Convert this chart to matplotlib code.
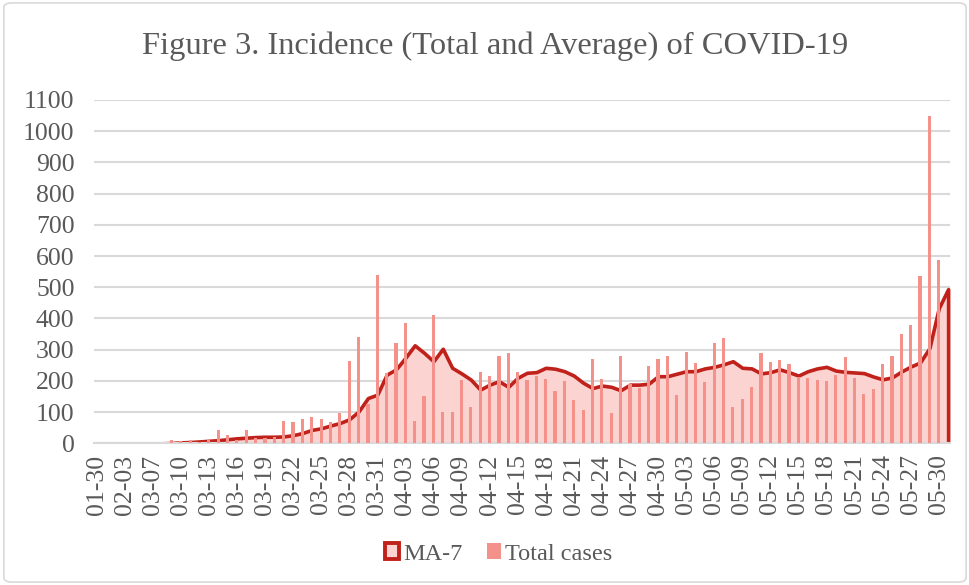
import matplotlib.pyplot as plt
import numpy as np
import pandas as pd
from matplotlib.patches import FancyBboxPatch, Patch

# category labels (the first few dates are not consecutive)
early_dates = ["01-30", "02-01", "02-02", "02-03", "02-04", "03-06"]
later_dates = pd.date_range("2020-03-07", "2020-05-31").strftime("%m-%d").tolist()
dates = early_dates + later_dates

total_cases = [
    0, 0, 0, 0, 0, 0, 0, 0, 12, 8,
    12, 5, 10, 43, 27, 12, 43, 18, 16, 20,
    73, 69, 78, 85, 79, 68, 98, 264, 342, 125,
    538, 226, 320, 386, 72, 150, 411, 101, 101, 202,
    115, 228, 215, 280, 290, 228, 202, 215, 206, 169,
    199, 138, 108, 269, 206, 97, 280, 191, 176, 249,
    271, 280, 154, 294, 258, 197, 320, 337, 115, 142,
    180, 289, 262, 267, 254, 213, 210, 204, 201, 220,
    275, 209, 157, 174, 253, 279, 349, 379, 535, 1048,
    587, np.nan,
]

ma7 = [
    0, 0, 0, 0, 0, 0, 0, 0, 1, 3,
    4, 6, 8, 10, 13, 16, 18, 20, 21, 21,
    22, 26, 33, 43, 48, 57, 65, 77, 102, 145,
    156, 220, 237, 274, 314, 290, 263, 303, 242, 224,
    204, 172, 188, 199, 181, 210, 226, 228, 242, 239,
    231, 217, 194, 177, 185, 181, 170, 188, 188, 191,
    215, 215, 223, 231, 231, 240, 245, 253, 263, 242,
    240, 224, 228, 237, 228, 217, 231, 240, 245, 233,
    229, 227, 225, 214, 205, 211, 230, 246, 259, 305,
    433, 494,
]

yticks = list(range(0, 1101, 100))

TEXT = "#595959"
GRID = "#d9d9d9"
BAR = "#f4918b"
FILL = "#fbd3d1"
EDGE = "#c0211a"

plt.rcParams["font.family"] = ["Liberation Serif", "DejaVu Serif"]

fig = plt.figure(figsize=(9.7, 5.85), dpi=100)
ax = fig.add_axes([94 / 970, 1 - 443.3 / 585, 856 / 970, 343.3 / 585])

x = np.arange(len(dates))
ax.fill_between(x, ma7, 0, facecolor=FILL, edgecolor=EDGE, linewidth=2.6,
                joinstyle="round", zorder=2)
ax.bar(x, total_cases, width=0.34, color=BAR, zorder=3)

ax.set_xlim(-0.27, len(dates) - 1 + 0.2)
ax.set_ylim(0, 1100)
ax.set_yticks(yticks)
ax.set_xticks(x[::3])
ax.set_xticklabels(dates[::3], rotation=90)
ax.tick_params(axis="both", length=0, colors=TEXT, labelsize=18.5)
ax.tick_params(axis="y", pad=14)
ax.tick_params(axis="x", pad=8)
ax.grid(axis="y", color=GRID, linewidth=1.5, zorder=0)
ax.set_axisbelow(True)
for side in ["top", "right", "left"]:
    ax.spines[side].set_visible(False)
ax.spines["bottom"].set_color(GRID)
ax.spines["bottom"].set_linewidth(1.5)

fig.text(0.51, 1 - 46 / 585, "Figure 3. Incidence (Total and Average) of COVID-19",
         ha="center", va="center", fontsize=23.4, color=TEXT)

handles = [
    Patch(facecolor=FILL, edgecolor=EDGE, linewidth=2.8, label="MA-7"),
    Patch(facecolor=BAR, edgecolor="none", label="Total cases"),
]
leg = fig.legend(handles=handles, loc="center", bbox_to_anchor=(0.514, 1 - 554 / 585),
                 ncol=2, frameon=False, fontsize=17.5, handlelength=0.6,
                 handleheight=0.6, handletextpad=0.15, columnspacing=1.0)
for t in leg.get_texts():
    t.set_color(TEXT)

fig.patches.append(FancyBboxPatch((0.004, 0.005), 0.992, 0.99,
                                  boxstyle="round,pad=0,rounding_size=0.008",
                                  transform=fig.transFigure, facecolor="none",
                                  edgecolor=GRID, linewidth=1.2))

fig.savefig("out.png", dpi=100)
